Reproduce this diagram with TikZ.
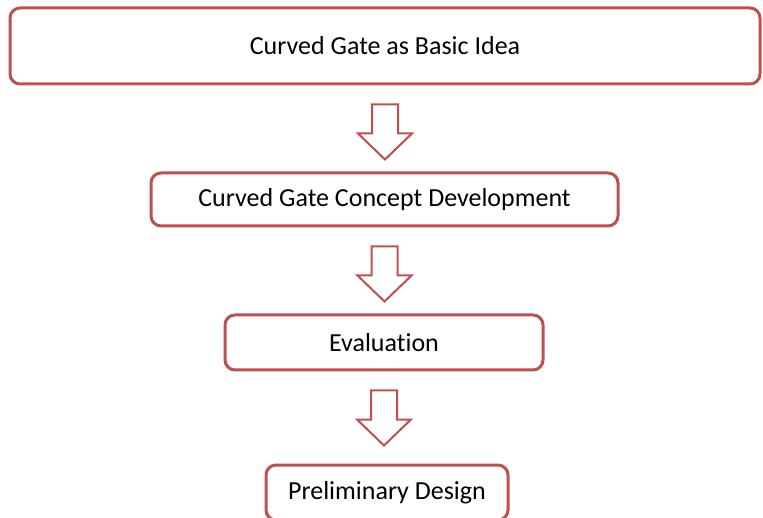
\documentclass[tikz,border=0pt]{standalone}
\usepackage{fontspec}
\setmainfont{Carlito}[RawFeature=-liga]
\usepackage{tikz}
\usetikzlibrary{calc}
\definecolor{boxred}{RGB}{192,80,77}

\tikzset{
    stagebox/.style={draw=boxred,line width=3pt,rounded corners=10pt,fill=white,
        inner sep=0pt,font=\fontsize{26}{30}\selectfont,text=black},
    blockarrow/.style={draw=boxred,line width=2pt,fill=white,line join=miter}
}

% hollow down arrow, 55 long, starting 19 below the box above
\newcommand{\downblock}[1]{
    \draw[blockarrow] ($(#1.south)+(-13,19)$) -- ++(26,0) -- ++(0,29) -- ++(14,0)
        -- ++(-27,26) -- ++(-27,-26) -- ++(14,0) -- cycle;
}

\begin{document}
\begin{tikzpicture}[x=1pt,y=-1pt]
                \useasboundingbox (0,0) rectangle (763,518);
                \node[stagebox,minimum width=750pt,minimum height=76pt] (idea) at (385,46) {Curved Gate as Basic Idea};
                \node[stagebox,minimum width=467pt,minimum height=53pt] (concept) at (384.5,199.5) {Curved Gate Concept Development};
                \node[stagebox,minimum width=318pt,minimum height=55pt] (eval) at (384,342.5) {Evaluation};
                \node[stagebox,minimum width=242pt,minimum height=55pt] (prelim) at (387,492.5) {Preliminary Design};

                \downblock{idea}
                \downblock{concept}
                \downblock{eval}
\end{tikzpicture}
\end{document}
